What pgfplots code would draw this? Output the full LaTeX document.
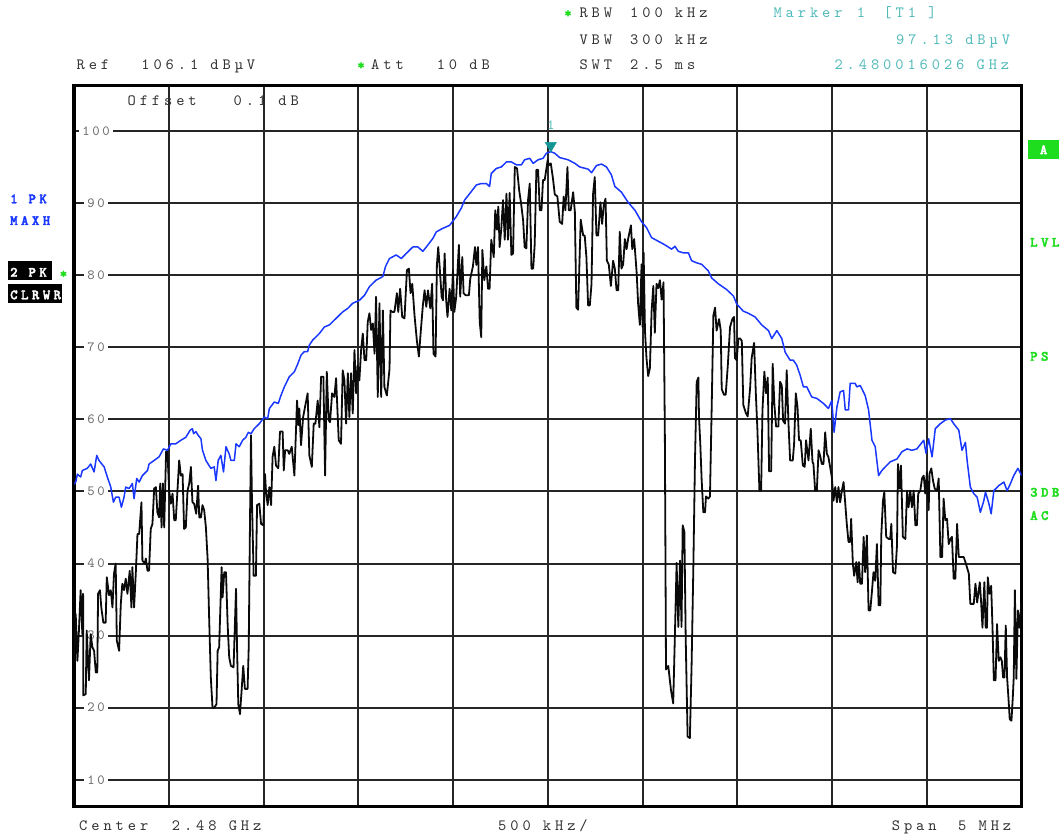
\documentclass[border=0pt]{standalone}
\usepackage{fontspec}
\usepackage{pgfplots}
\usepackage{pgfplotstable}
\pgfplotsset{compat=1.18}

\definecolor{maxh}{RGB}{25,55,255}
\definecolor{clrwr}{RGB}{10,10,10}
\definecolor{mkcyan}{RGB}{80,185,185}
\definecolor{mkteal}{RGB}{20,150,150}
\definecolor{rsgreen}{RGB}{30,220,30}
\definecolor{txtgray}{RGB}{50,50,50}
\definecolor{tickgray}{RGB}{105,105,105}

% screen fonts: Latin Modern Mono, letter spaced
\newfontfamily\scrfont{lmmono10-regular.otf}[LetterSpace=25]
\newfontfamily\tickfnt{lmmono10-regular.otf}[LetterSpace=19]
\newfontfamily\sidefnt{lmmonolt10-bold.otf}[LetterSpace=24,FakeBold=2.5]
\newcommand{\hdr}{\scrfont\fontsize{15.7}{18}\selectfont}
\newcommand{\tck}{\tickfnt\fontsize{14}{16}\selectfont}
\newcommand{\side}{\sidefnt\fontsize{14.2}{15}\selectfont}

% trace 1: PK / MAXH  (offset from 2.48 GHz in MHz, level in dBuV)
\pgfplotstableread{
f lev
-2.500 51.0
-2.491 51.3
-2.482 52.4
-2.465 52.0
-2.456 52.9
-2.430 53.2
-2.412 53.8
-2.394 52.7
-2.380 55.0
-2.368 54.3
-2.341 53.4
-2.324 52.0
-2.306 50.6
-2.292 48.5
-2.280 49.2
-2.262 49.2
-2.250 47.8
-2.236 49.2
-2.227 50.6
-2.209 50.4
-2.192 51.1
-2.183 49.0
-2.169 51.8
-2.156 51.3
-2.139 52.2
-2.112 52.9
-2.104 53.8
-2.077 54.3
-2.051 54.8
-2.028 55.9
-2.007 55.7
-1.989 56.6
-1.963 56.6
-1.936 57.1
-1.910 57.5
-1.887 58.5
-1.875 58.7
-1.869 58.0
-1.857 58.3
-1.845 57.8
-1.830 57.3
-1.822 55.7
-1.804 54.3
-1.778 53.2
-1.760 53.4
-1.751 51.5
-1.739 54.3
-1.725 55.0
-1.711 52.7
-1.698 56.2
-1.681 55.2
-1.672 54.3
-1.654 54.3
-1.645 56.6
-1.628 56.2
-1.610 57.1
-1.593 57.5
-1.580 58.2
-1.566 58.0
-1.549 58.7
-1.522 59.4
-1.496 60.3
-1.478 60.1
-1.469 61.5
-1.443 62.4
-1.422 62.2
-1.408 63.3
-1.390 64.5
-1.364 65.9
-1.337 66.6
-1.319 67.7
-1.302 68.9
-1.284 69.4
-1.267 69.4
-1.258 70.3
-1.240 71.0
-1.205 71.9
-1.179 72.8
-1.152 73.1
-1.117 74.0
-1.082 74.9
-1.055 75.4
-1.029 76.1
-0.994 76.5
-0.967 77.2
-0.941 78.4
-0.906 79.3
-0.870 79.8
-0.856 81.2
-0.835 82.3
-0.800 82.8
-0.773 82.3
-0.747 83.0
-0.712 83.9
-0.685 83.9
-0.659 83.3
-0.632 84.2
-0.606 85.1
-0.588 86.0
-0.553 86.5
-0.518 86.9
-0.483 88.1
-0.456 89.3
-0.439 90.4
-0.412 91.3
-0.377 92.5
-0.351 92.7
-0.324 92.7
-0.307 92.3
-0.298 94.1
-0.271 94.8
-0.245 95.0
-0.218 95.7
-0.192 95.7
-0.166 95.3
-0.139 95.3
-0.122 96.0
-0.095 96.2
-0.077 95.5
-0.051 96.0
-0.025 96.2
-0.007 96.9
0.016 97.13
0.037 96.9
0.063 96.3
0.107 96.0
0.143 95.5
0.169 95.0
0.213 94.7
0.231 94.2
0.257 95.2
0.284 95.4
0.310 95.0
0.336 93.9
0.354 92.3
0.389 91.5
0.424 90.1
0.460 89.0
0.495 87.4
0.521 86.6
0.548 85.2
0.583 84.7
0.618 84.2
0.654 83.6
0.671 84.0
0.689 83.3
0.715 83.1
0.742 83.1
0.759 82.0
0.786 81.7
0.812 81.5
0.847 80.6
0.865 79.6
0.900 78.8
0.944 78.0
0.980 77.1
0.997 76.0
1.032 75.0
1.059 74.7
1.094 74.2
1.129 73.1
1.165 72.3
1.182 71.2
1.209 72.3
1.235 71.2
1.253 69.3
1.279 68.2
1.296 68.2
1.314 67.5
1.332 66.1
1.349 64.5
1.367 64.5
1.393 63.1
1.420 62.9
1.455 62.2
1.481 61.5
1.499 62.6
1.511 58.2
1.526 61.7
1.543 63.8
1.561 64.0
1.570 61.3
1.587 61.3
1.596 65.0
1.622 65.0
1.631 64.5
1.649 64.7
1.675 63.3
1.693 61.3
1.711 57.1
1.728 56.2
1.746 52.2
1.763 52.9
1.781 53.4
1.807 54.1
1.843 54.5
1.869 55.5
1.896 55.9
1.922 55.7
1.948 55.9
1.984 57.1
1.996 55.3
2.010 57.3
2.028 54.8
2.045 58.7
2.072 59.4
2.098 59.9
2.125 60.1
2.142 59.4
2.169 58.5
2.186 55.7
2.204 56.8
2.213 54.3
2.230 50.6
2.248 49.7
2.266 49.2
2.283 47.1
2.301 48.7
2.310 49.9
2.327 48.4
2.340 46.9
2.354 50.1
2.380 50.8
2.407 51.3
2.424 50.1
2.442 51.1
2.459 52.2
2.481 53.2
2.500 52.2
}\maxhdata

% trace 2: PK / CLRWR
\pgfplotstableread{
f lev
-2.500 26.5
-2.491 33.0
-2.482 26.5
-2.474 30.7
-2.465 36.3
-2.456 30.2
-2.452 35.8
-2.451 21.7
-2.438 21.9
-2.433 30.7
-2.421 23.8
-2.412 30.2
-2.403 28.4
-2.394 27.9
-2.385 24.9
-2.377 24.9
-2.373 35.8
-2.363 36.3
-2.356 33.9
-2.345 31.8
-2.333 31.8
-2.327 38.1
-2.315 35.6
-2.306 36.3
-2.297 33.9
-2.289 38.6
-2.280 40.0
-2.274 29.3
-2.262 27.9
-2.253 34.4
-2.245 37.2
-2.236 36.3
-2.227 37.9
-2.218 35.8
-2.206 39.0
-2.197 33.9
-2.192 39.5
-2.183 33.9
-2.174 38.6
-2.165 44.1
-2.156 44.1
-2.151 46.0
-2.144 48.5
-2.139 40.4
-2.126 40.0
-2.121 40.7
-2.112 39.0
-2.104 39.0
-2.095 44.8
-2.086 45.5
-2.077 50.4
-2.068 50.6
-2.060 47.1
-2.051 46.4
-2.045 51.1
-2.038 45.0
-2.031 51.1
-2.024 45.0
-2.014 55.5
-2.007 55.6
-1.998 50.1
-1.989 48.3
-1.980 49.7
-1.971 46.0
-1.963 46.0
-1.954 50.1
-1.945 54.3
-1.936 52.2
-1.927 52.4
-1.919 44.8
-1.910 45.0
-1.901 50.1
-1.892 51.1
-1.883 53.4
-1.875 48.5
-1.866 48.3
-1.855 46.9
-1.845 50.8
-1.839 46.4
-1.830 46.4
-1.822 48.1
-1.813 47.4
-1.804 45.0
-1.795 40.7
-1.786 31.6
-1.778 24.2
-1.769 20.0
-1.760 20.0
-1.748 20.5
-1.742 27.9
-1.734 28.4
-1.721 39.5
-1.716 35.3
-1.707 38.8
-1.698 38.8
-1.689 31.4
-1.681 27.0
-1.672 25.8
-1.658 25.6
-1.645 36.5
-1.640 28.8
-1.633 20.5
-1.624 19.1
-1.615 22.6
-1.607 25.8
-1.598 22.6
-1.584 22.6
-1.578 28.4
-1.571 46.4
-1.566 57.8
-1.561 48.8
-1.552 38.3
-1.540 38.3
-1.534 48.1
-1.522 48.3
-1.513 45.5
-1.501 45.3
-1.492 52.4
-1.487 50.1
-1.478 48.1
-1.469 50.6
-1.460 48.1
-1.452 54.8
-1.443 56.2
-1.434 53.6
-1.422 53.2
-1.413 58.3
-1.399 58.3
-1.393 52.9
-1.386 55.7
-1.372 55.7
-1.364 55.2
-1.351 56.2
-1.337 52.2
-1.323 62.6
-1.316 59.2
-1.311 61.5
-1.302 56.4
-1.291 60.3
-1.281 61.7
-1.267 63.6
-1.258 55.0
-1.245 53.4
-1.235 59.4
-1.226 59.4
-1.214 62.6
-1.205 58.9
-1.196 65.9
-1.184 65.9
-1.175 52.2
-1.166 66.6
-1.156 59.9
-1.149 59.6
-1.138 63.6
-1.126 63.1
-1.117 65.7
-1.103 57.1
-1.091 56.6
-1.082 66.8
-1.073 65.4
-1.064 59.4
-1.055 66.4
-1.047 60.3
-1.038 66.4
-1.029 60.8
-1.020 69.6
-1.011 63.6
-1.003 67.5
-0.994 65.4
-0.985 69.6
-0.976 71.9
-0.967 68.2
-0.958 68.2
-0.950 73.5
-0.941 74.7
-0.932 72.4
-0.923 73.3
-0.914 69.1
-0.906 77.0
-0.897 63.1
-0.888 76.1
-0.879 63.1
-0.870 75.1
-0.862 64.5
-0.849 63.3
-0.835 67.0
-0.830 75.1
-0.821 74.9
-0.809 74.9
-0.796 77.5
-0.789 74.9
-0.779 78.1
-0.768 74.2
-0.756 74.0
-0.743 80.7
-0.733 80.9
-0.724 77.5
-0.715 78.8
-0.703 74.4
-0.691 71.0
-0.680 68.7
-0.671 71.9
-0.659 75.8
-0.650 77.9
-0.641 75.6
-0.632 77.9
-0.620 75.4
-0.610 78.8
-0.603 69.1
-0.592 68.7
-0.585 81.4
-0.578 83.9
-0.571 81.4
-0.560 77.0
-0.553 76.5
-0.544 83.0
-0.536 76.5
-0.529 74.2
-0.518 78.1
-0.509 75.1
-0.500 80.7
-0.493 74.9
-0.483 77.0
-0.469 84.2
-0.462 77.0
-0.451 82.5
-0.444 77.5
-0.433 77.2
-0.416 77.2
-0.409 79.5
-0.395 81.2
-0.384 83.9
-0.377 81.4
-0.368 83.9
-0.359 73.5
-0.351 71.4
-0.345 83.5
-0.335 79.3
-0.324 81.2
-0.315 78.1
-0.307 78.1
-0.298 84.9
-0.285 82.5
-0.277 89.0
-0.268 86.3
-0.261 89.5
-0.254 83.9
-0.245 86.5
-0.236 90.4
-0.227 84.9
-0.218 91.3
-0.210 84.9
-0.201 91.4
-0.192 82.8
-0.183 83.0
-0.174 95.0
-0.162 94.8
-0.151 91.8
-0.141 90.0
-0.130 87.6
-0.122 83.9
-0.113 83.7
-0.104 90.4
-0.095 92.7
-0.086 80.9
-0.077 80.9
-0.069 84.2
-0.060 94.6
-0.051 94.6
-0.042 89.0
-0.033 89.0
-0.025 93.2
-0.016 93.2
-0.007 94.8
0.000 96.0
0.005 95.2
0.016 95.5
0.028 93.3
0.037 91.2
0.051 90.9
0.063 87.4
0.076 87.1
0.084 90.9
0.093 89.0
0.104 95.0
0.111 89.0
0.121 89.0
0.134 91.5
0.143 88.8
0.151 75.5
0.160 75.2
0.174 87.7
0.187 85.5
0.195 85.5
0.204 82.5
0.213 75.8
0.222 75.8
0.231 78.8
0.239 91.2
0.248 93.6
0.257 85.5
0.266 85.5
0.278 90.1
0.287 87.1
0.296 89.8
0.305 90.6
0.312 82.0
0.322 81.5
0.333 78.5
0.345 82.0
0.354 80.9
0.363 77.9
0.372 77.9
0.380 86.0
0.389 80.9
0.398 81.5
0.407 85.0
0.416 83.6
0.424 85.0
0.439 86.9
0.446 83.6
0.456 85.0
0.469 80.4
0.477 76.0
0.486 73.1
0.495 81.5
0.500 72.8
0.506 83.1
0.513 72.3
0.521 68.5
0.530 66.0
0.539 67.1
0.548 75.0
0.557 78.5
0.565 72.0
0.574 78.8
0.583 78.2
0.592 79.3
0.601 76.6
0.611 79.0
0.618 57.7
0.624 25.3
0.636 25.8
0.650 22.5
0.662 20.6
0.671 30.1
0.680 40.1
0.689 31.2
0.698 40.4
0.706 31.2
0.712 45.3
0.721 44.4
0.728 29.6
0.738 16.0
0.750 15.8
0.759 25.8
0.768 39.0
0.777 54.4
0.786 65.2
0.795 65.8
0.798 60.4
0.805 56.6
0.812 51.7
0.821 47.1
0.830 47.1
0.835 49.3
0.847 49.0
0.856 49.3
0.865 61.5
0.874 74.4
0.883 75.5
0.891 72.3
0.904 73.9
0.913 72.3
0.918 64.2
0.930 63.4
0.939 63.4
0.950 67.4
0.962 72.8
0.974 73.9
0.983 74.2
0.988 68.5
0.997 68.2
1.006 71.2
1.015 71.2
1.024 70.9
1.032 62.0
1.045 60.9
1.055 60.4
1.068 64.4
1.076 68.5
1.089 70.6
1.098 63.6
1.106 58.8
1.117 50.1
1.126 50.1
1.133 61.2
1.143 66.6
1.152 63.6
1.161 65.8
1.168 52.8
1.179 52.8
1.187 67.7
1.196 62.0
1.205 59.0
1.217 59.0
1.226 65.2
1.235 64.7
1.242 59.8
1.252 59.4
1.261 66.8
1.270 59.6
1.279 54.3
1.293 54.3
1.300 56.6
1.309 63.6
1.318 61.7
1.326 57.1
1.335 57.1
1.346 53.6
1.356 53.4
1.363 57.1
1.376 54.3
1.388 58.7
1.397 54.1
1.402 53.8
1.411 50.1
1.420 50.1
1.429 55.7
1.437 55.0
1.446 53.8
1.455 53.8
1.464 58.2
1.473 55.2
1.481 54.8
1.490 53.4
1.499 52.0
1.508 48.7
1.517 50.6
1.526 48.5
1.534 50.6
1.543 48.5
1.552 50.1
1.561 51.3
1.570 48.3
1.578 45.5
1.587 43.0
1.596 43.0
1.601 46.2
1.610 40.0
1.617 38.3
1.628 40.2
1.635 37.4
1.642 40.2
1.649 37.2
1.658 37.2
1.667 43.7
1.675 38.8
1.684 43.9
1.693 33.5
1.702 33.5
1.711 36.2
1.719 38.8
1.728 37.6
1.737 42.7
1.746 34.2
1.755 34.2
1.760 43.9
1.769 48.7
1.776 49.9
1.786 43.7
1.799 43.4
1.807 43.4
1.813 45.5
1.822 38.8
1.834 38.6
1.843 42.5
1.848 53.8
1.857 50.4
1.864 53.6
1.874 43.7
1.887 43.4
1.896 50.1
1.904 47.8
1.913 50.1
1.922 47.8
1.931 50.1
1.940 45.3
1.948 45.3
1.955 49.7
1.966 50.1
1.975 51.8
1.984 52.2
1.992 49.7
2.001 52.7
2.010 47.4
2.015 52.5
2.024 53.2
2.033 51.5
2.042 50.4
2.054 50.1
2.063 51.8
2.072 40.9
2.081 40.9
2.089 49.0
2.098 46.0
2.107 46.2
2.116 42.7
2.125 43.4
2.133 43.7
2.142 37.9
2.151 37.9
2.160 45.5
2.169 40.9
2.177 40.9
2.195 40.9
2.204 40.2
2.222 38.6
2.230 34.4
2.248 34.4
2.257 37.2
2.266 34.6
2.280 37.4
2.287 34.6
2.294 31.1
2.304 37.4
2.311 31.1
2.318 31.1
2.322 38.1
2.331 35.8
2.340 36.9
2.347 31.1
2.354 23.8
2.363 23.8
2.371 31.6
2.380 26.5
2.389 27.0
2.396 26.5
2.403 24.2
2.410 24.2
2.417 31.4
2.424 24.2
2.431 21.4
2.438 18.4
2.447 18.2
2.454 21.4
2.459 24.2
2.465 36.3
2.473 24.0
2.481 33.5
2.488 31.1
2.500 34.6
}\clrwrdata

\begin{document}
\begin{tikzpicture}[x=1pt,y=1pt]
\begin{axis}[
    at={(74pt,31.5pt)}, anchor=south west,
    scale only axis, width=947.5pt, height=721pt,
    xmin=-2.5, xmax=2.5, ymin=6.3, ymax=106.3,
    set layers,
    axis line style={line width=3.3pt, black},
    xtick={-2,-1.5,-1,-0.5,0,0.5,1,1.5,2},
    xticklabels={},
    ytick={10,20,30,40,50,60,70,80,90,100},
    major tick length=0pt,
    grid=major,
    major grid style={line width=2pt, black!85},
    /pgf/number format/assume math mode=true,
    yticklabel style={anchor=center, xshift=22pt, fill=white,
        inner xsep=3pt, inner ysep=1pt, text=tickgray, font=\tck},
]
\addplot[clrwr, line width=1.8pt, line join=round] table[x=f, y=lev] {\clrwrdata};
\addplot[maxh, line width=1.5pt, line join=round] table[x=f, y=lev] {\maxhdata};
\addplot[only marks, mark=triangle*, mark size=6.5pt,
    mark options={yshift=6pt, rotate=180, fill=mkteal, draw=mkteal}]
    coordinates {(0.016,97.13)};
\node[text=mkcyan, font=\tck, inner sep=0] at (axis cs:0.016,100.8) {1};
\end{axis}

% header block
\begin{scope}[every node/.style={anchor=base west, inner sep=0, text=txtgray, font=\hdr}]
\node at (76.4,768) {Ref};
\node at (141.2,768) {106.1 dBµV};
\node at (371,768) {Att};
\node at (436.6,768) {10 dB};
\node at (579.3,820.7) {RBW};
\node at (630,820.7) {100 kHz};
\node at (579.3,793.3) {VBW};
\node at (630,793.3) {300 kHz};
\node at (579.3,768) {SWT};
\node at (630,768) {2.5 ms};
\node at (127.4,732) {Offset};
\node at (233.5,732) {0.1 dB};
\node[text=mkcyan] at (773.3,820.7) {Marker};
\node[text=mkcyan] at (856.7,820.7) {1};
\node[text=mkcyan] at (883.3,820.7) {[T1 ]};
\node[text=mkcyan] at (896,793.3) {97.13 dBµV};
\node[text=mkcyan] at (834.3,768) {2.480016026 GHz};
\node at (79,7.3) {Center};
\node at (171.7,7.3) {2.48 GHz};
\node at (498,7.3) {500 kHz/};
\node at (891.7,7.3) {Span};
\node at (958,7.3) {5 MHz};
\end{scope}

% enhancement stars
\begin{scope}[every node/.style={anchor=center, inner sep=0, text=rsgreen, font=\side}]
\node at (568,824) {*};
\node at (361,772) {*};
\node at (63.5,563.5) {*};
\end{scope}

% trace labels, left
\node[anchor=base west, inner sep=0, text=maxh, font=\side] at (10,634.7) {1 PK};
\node[anchor=base west, inner sep=0, text=maxh, font=\side] at (10,613) {MAXH};
\fill[black] (8,558) rectangle (52,577);
\fill[black] (8,535.3) rectangle (62,554);
\node[anchor=base west, inner sep=0, text=white, font=\side] at (10,561.3) {2 PK};
\node[anchor=base west, inner sep=0, text=white, font=\side] at (10,538.7) {CLRWR};

% status labels, right
\fill[rsgreen] (1028.3,678.7) rectangle (1059,698);
\node[inner sep=0, text=white, font=\side] at (1043.6,688.3) {A};
\begin{scope}[every node/.style={anchor=base west, inner sep=0, text=rsgreen, font=\side}]
\node at (1030,591.3) {LVL};
\node at (1030,477.3) {PS};
\node at (1030,341.3) {3DB};
\node at (1030,318) {AC};
\end{scope}

\pgfresetboundingbox
\path[use as bounding box] (0,0) rectangle (1063,838);
\end{tikzpicture}
\end{document}
